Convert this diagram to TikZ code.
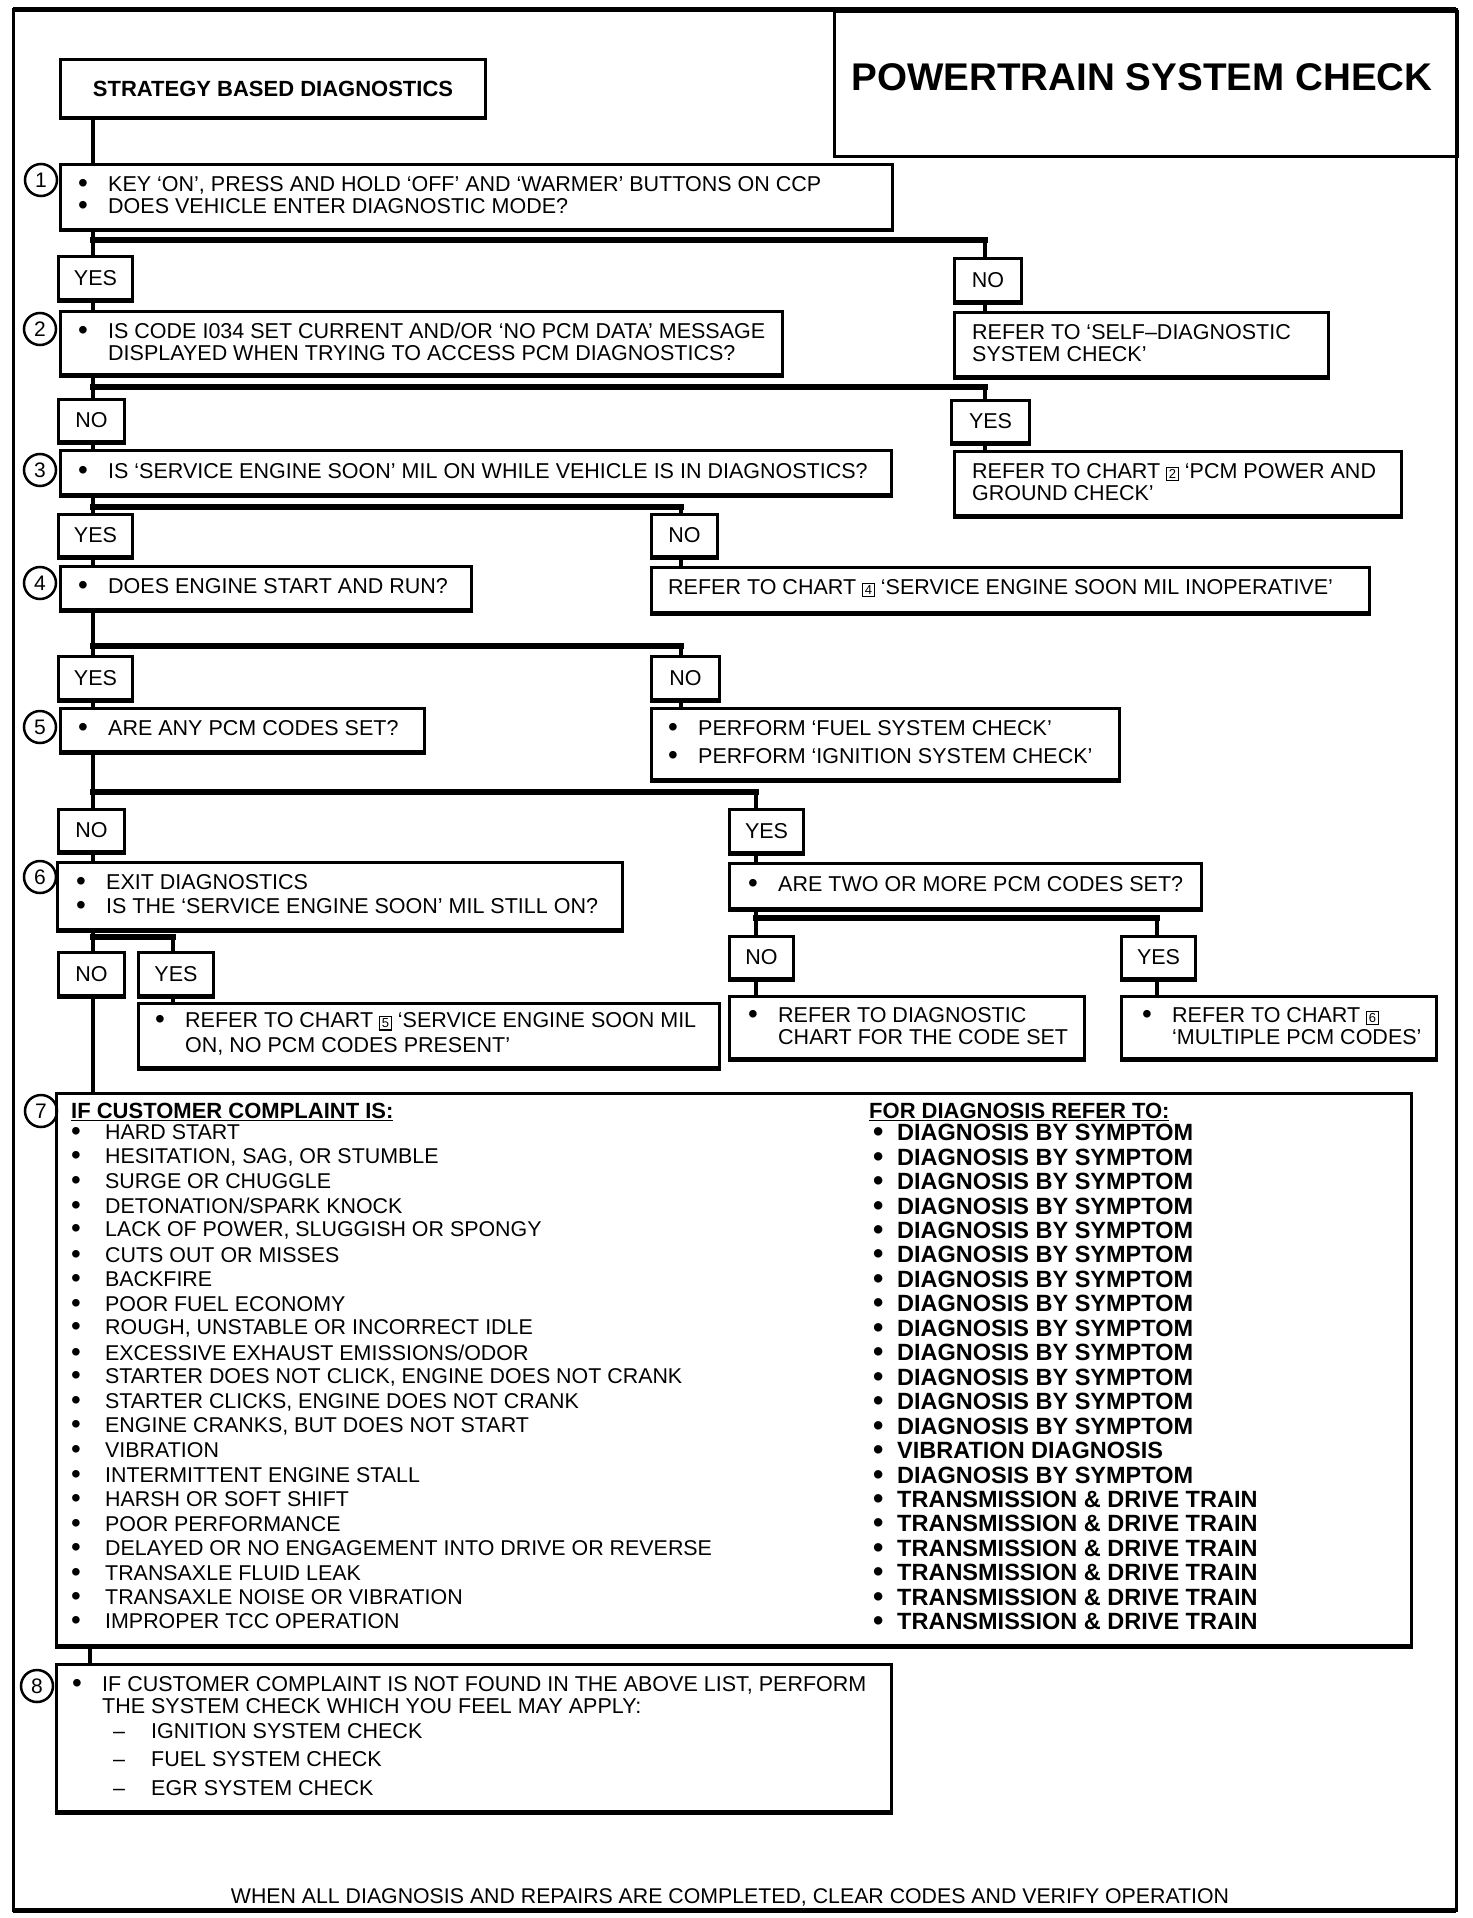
\documentclass[tikz,border=0pt]{standalone}
\usepackage{fontspec}
\setmainfont{Liberation Sans}
\usepackage{graphicx}
\usetikzlibrary{calc}

\newcommand\mainfs{\fontsize{21.5}{22}\selectfont}
\newcommand\listfs{\fontsize{21.4}{24}\selectfont}
\newcommand\rightfs{\fontsize{23.5}{24}\selectfont\bfseries}
\newcommand\bul{\makebox[30pt][l]{\raisebox{-1pt}{\scalebox{1.3}{\textbullet}}}}
\newcommand\bulL{\makebox[34pt][l]{\raisebox{-1pt}{\scalebox{1.3}{\textbullet}}}}
\newcommand\bulR{\makebox[24pt][l]{\raisebox{-1pt}{\scalebox{1.25}{\textbullet}}}}
\newcommand\indt{\hspace*{30pt}}
\newcommand\dsh{\hspace*{41pt}\makebox[38pt][l]{–}}
\newcommand\chno[1]{{\fboxsep=1.5pt\fboxrule=1.3pt\fbox{\fontsize{13}{13}\selectfont #1}}}

\tikzset{
  box/.style={draw, rectangle, line width=3pt, anchor=north west, inner sep=0pt},
  boxtext/.style={anchor=west, inner sep=0pt, align=left, font=\mainfs},
  yn/.style={draw, rectangle, line width=3pt, anchor=north west, inner sep=0pt, font=\mainfs},
  num/.style={draw, circle, line width=2.5pt, minimum size=32pt, inner sep=0pt, font=\fontsize{21}{21}\selectfont},
  vline/.style={line width=4pt},
  hline/.style={line width=6pt, line cap=rect},
  shadowline/.style={line width=3pt},
  listL/.style={anchor=west, inner sep=0pt, font=\listfs},
  listR/.style={anchor=west, inner sep=0pt, font=\rightfs},
  head/.style={anchor=west, inner sep=0pt, font=\fontsize{22}{24}\selectfont\bfseries},
}

\newcommand\fbx[7]{%
  \pgfmathsetmacro\bxw{#4-#2}%
  \pgfmathsetmacro\bxh{#5-#3}%
  \pgfmathsetmacro\bxc{(#3+#5)/2}%
  \node[box, minimum width=\bxw pt, minimum height=\bxh pt] (#1) at (#2,#3) {};%
  \node[boxtext] (#1t) at (#6,\bxc) {#7};%
}
\newcommand\ynb[6]{%
  \pgfmathsetmacro\bxw{#4-#2}%
  \pgfmathsetmacro\bxh{#5-#3}%
  \node[yn, minimum width=\bxw pt, minimum height=\bxh pt] (#1) at (#2,#3) {#6};%
}

\begin{document}
\begin{tikzpicture}[x=1pt,y=-1pt]
\useasboundingbox (0,0) rectangle (1472,1918);

% outer frame
\draw[line width=3pt] (13,10) rectangle (1456,1910);
\draw[line width=5pt] (13,10) -- (1456,10);
\draw[line width=5pt] (13,1910) -- (1456,1910);

% title
\node[draw, line width=3pt, anchor=north west, minimum width=623pt, minimum height=145pt, inner sep=0pt] (TB) at (833,10) {};
\node[font=\fontsize{38.6}{40}\selectfont\bfseries, inner sep=0pt] (TT) at (1142,77) {POWERTRAIN SYSTEM CHECK};

% start box
\node[box, minimum width=425pt, minimum height=58pt, font=\fontsize{22}{24}\selectfont\bfseries] (B0) at (59,58) {STRATEGY BASED DIAGNOSTICS};

% step 1
\node[num] (C1) at (41,180) {1};
\fbx{B1}{59}{163}{891}{228}{78}{\bul KEY ‘ON’, PRESS AND HOLD ‘OFF’ AND ‘WARMER’ BUTTONS ON CCP\\ \bul DOES VEHICLE ENTER DIAGNOSTIC MODE?}
\ynb{Y1}{57}{255}{131}{298}{YES}
\ynb{N1}{953}{257}{1020}{300}{NO}
\fbx{F1}{953}{311}{1327}{375}{972}{REFER TO ‘SELF–DIAGNOSTIC\\SYSTEM CHECK’}

% step 2
\node[num] (C2) at (40,329) {2};
\fbx{B2}{59}{310}{781}{373}{78}{\bul IS CODE I034 SET CURRENT AND/OR ‘NO PCM DATA’ MESSAGE\\ \indt DISPLAYED WHEN TRYING TO ACCESS PCM DIAGNOSTICS?}
\ynb{N2}{57}{398}{123}{440}{NO}
\ynb{Y2}{950}{399}{1028}{441}{YES}
\fbx{F2}{953}{450}{1400}{514}{972}{REFER TO CHART \chno{2} ‘PCM POWER AND\\GROUND CHECK’}

% step 3
\node[num] (C3) at (40,470) {3};
\fbx{B3}{59}{449}{890}{493}{78}{\bul IS ‘SERVICE ENGINE SOON’ MIL ON WHILE VEHICLE IS IN DIAGNOSTICS?}
\ynb{Y3}{57}{513}{131}{555}{YES}
\ynb{N3}{650}{513}{716}{555}{NO}

% step 4
\node[num] (C4) at (40,583) {4};
\fbx{B4}{59}{565}{470}{608}{78}{\bul DOES ENGINE START AND RUN?}
\fbx{F4}{650}{566}{1368}{611}{668}{REFER TO CHART \chno{4} ‘SERVICE ENGINE SOON MIL INOPERATIVE’}
\ynb{Y4}{57}{655}{131}{698}{YES}
\ynb{N4}{650}{655}{718}{698}{NO}

% step 5
\node[num] (C5) at (40,727) {5};
\fbx{B5}{59}{707}{423}{750}{78}{\bul ARE ANY PCM CODES SET?}
\fbx{P4}{650}{707}{1118}{778}{668}{\bul PERFORM ‘FUEL SYSTEM CHECK’\\[6pt]\bul PERFORM ‘IGNITION SYSTEM CHECK’}
\ynb{N5}{57}{808}{123}{850}{NO}
\ynb{Y5}{728}{808}{802}{851}{YES}

% step 6
\node[num] (C6) at (40,877) {6};
\fbx{B6}{56}{861}{621}{928}{76}{\bul EXIT DIAGNOSTICS\\[2pt]\bul IS THE ‘SERVICE ENGINE SOON’ MIL STILL ON?}
\fbx{T5}{728}{862}{1200}{907}{748}{\bul ARE TWO OR MORE PCM CODES SET?}
\ynb{N6}{57}{951}{123}{994}{NO}
\ynb{Y6}{137}{951}{212}{994}{YES}
\fbx{F5}{137}{1002}{718}{1066}{155}{\bul REFER TO CHART \chno{5} ‘SERVICE ENGINE SOON MIL\\[3pt]\indt ON, NO PCM CODES PRESENT’}
\ynb{N7}{728}{935}{792}{977}{NO}
\ynb{Y7}{1120}{935}{1194}{977}{YES}
\fbx{F6}{728}{995}{1083}{1057}{748}{\bul REFER TO DIAGNOSTIC\\ \indt CHART FOR THE CODE SET}
\fbx{F7}{1120}{995}{1435}{1057}{1142}{\bul REFER TO CHART \chno{6}\\ \indt ‘MULTIPLE PCM CODES’}

% step 7
\node[num] (C7) at (41,1111) {7};
\node[box, minimum width=1355pt, minimum height=552pt] (B7) at (55,1092) {};
\node[head] (LH) at (71,1112) {\underline{IF CUSTOMER COMPLAINT IS:}};
\node[head] (RH) at (869,1112) {\underline{FOR DIAGNOSIS REFER TO:}};
\foreach \t [count=\i] in {{HARD START},{HESITATION, SAG, OR STUMBLE},{SURGE OR CHUGGLE},{DETONATION/SPARK KNOCK},{LACK OF POWER, SLUGGISH OR SPONGY},{CUTS OUT OR MISSES},{BACKFIRE},{POOR FUEL ECONOMY},{ROUGH, UNSTABLE OR INCORRECT IDLE},{EXCESSIVE EXHAUST EMISSIONS/ODOR},{STARTER DOES NOT CLICK, ENGINE DOES NOT CRANK},{STARTER CLICKS, ENGINE DOES NOT CRANK},{ENGINE CRANKS, BUT DOES NOT START},{VIBRATION},{INTERMITTENT ENGINE STALL},{HARSH OR SOFT SHIFT},{POOR PERFORMANCE},{DELAYED OR NO ENGAGEMENT INTO DRIVE OR REVERSE},{TRANSAXLE FLUID LEAK},{TRANSAXLE NOISE OR VIBRATION},{IMPROPER TCC OPERATION}}
{
  \pgfmathsetmacro\yy{1133+24.45*(\i-1)}
  \node[listL] (LL\i) at (71,\yy) {\bulL\t};
}
\foreach \t [count=\i] in {{DIAGNOSIS BY SYMPTOM},{DIAGNOSIS BY SYMPTOM},{DIAGNOSIS BY SYMPTOM},{DIAGNOSIS BY SYMPTOM},{DIAGNOSIS BY SYMPTOM},{DIAGNOSIS BY SYMPTOM},{DIAGNOSIS BY SYMPTOM},{DIAGNOSIS BY SYMPTOM},{DIAGNOSIS BY SYMPTOM},{DIAGNOSIS BY SYMPTOM},{DIAGNOSIS BY SYMPTOM},{DIAGNOSIS BY SYMPTOM},{DIAGNOSIS BY SYMPTOM},{VIBRATION DIAGNOSIS},{DIAGNOSIS BY SYMPTOM},{TRANSMISSION \& DRIVE TRAIN},{TRANSMISSION \& DRIVE TRAIN},{TRANSMISSION \& DRIVE TRAIN},{TRANSMISSION \& DRIVE TRAIN},{TRANSMISSION \& DRIVE TRAIN},{TRANSMISSION \& DRIVE TRAIN}}
{
  \pgfmathsetmacro\yy{1133+24.45*(\i-1)}
  \node[listR] (LR\i) at (873,\yy) {\bulR\t};
}

% step 8
\node[num] (C8) at (37,1686) {8};
\fbx{B8}{55}{1663}{890}{1810}{72}{\bul IF CUSTOMER COMPLAINT IS NOT FOUND IN THE ABOVE LIST, PERFORM\\ \indt THE SYSTEM CHECK WHICH YOU FEEL MAY APPLY:\\[3pt]\dsh IGNITION SYSTEM CHECK\\[6pt]\dsh FUEL SYSTEM CHECK\\[7pt]\dsh EGR SYSTEM CHECK}

% footer
\node[inner sep=0pt, font=\fontsize{21.3}{22}\selectfont] (FT) at (730,1897) {WHEN ALL DIAGNOSIS AND REPAIRS ARE COMPLETED, CLEAR CODES AND VERIFY OPERATION};

% bottom shadows
\foreach \n in {B0,B1,Y1,N1,F1,B2,N2,Y2,F2,B3,Y3,N3,B4,F4,Y4,N4,B5,P4,N5,Y5,B6,T5,N6,Y6,F5,N7,Y7,F6,F7,B7,B8}
  \draw[shadowline] (\n.south west) -- (\n.south east);

% connector columns and branch levels
\coordinate (tk) at (93,0);
\coordinate (r1x) at (985,0);
\coordinate (c3x) at (681,0);
\coordinate (c5x) at (756,0);
\coordinate (c6x) at (173,0);
\coordinate (c7x) at (1157,0);
\coordinate (c8x) at (90,0);
\coordinate (h1) at (93,240);
\coordinate (h2) at (93,387);
\coordinate (h3) at (93,507);
\coordinate (h4) at (93,646);
\coordinate (h5) at (93,792);
\coordinate (h6) at (93,937);
\coordinate (h7) at (756,918);

% connectors
\draw[vline] (B0.south -| tk) -- (B1.north -| tk);
\draw[vline] (B1.south -| tk) -- (Y1.north -| tk);
\draw[hline] (h1) -- (h1 -| r1x);
\draw[vline] (h1 -| r1x) -- (N1.north -| r1x);
\draw[vline] (Y1.south -| tk) -- (B2.north -| tk);
\draw[vline] (N1.south -| r1x) -- (F1.north -| r1x);

\draw[vline] (B2.south -| tk) -- (N2.north -| tk);
\draw[hline] (h2) -- (h2 -| r1x);
\draw[vline] (h2 -| r1x) -- (Y2.north -| r1x);
\draw[vline] (N2.south -| tk) -- (B3.north -| tk);
\draw[vline] (Y2.south -| r1x) -- (F2.north -| r1x);

\draw[vline] (B3.south -| tk) -- (Y3.north -| tk);
\draw[hline] (h3) -- (h3 -| c3x);
\draw[vline] (h3 -| c3x) -- (N3.north -| c3x);
\draw[vline] (Y3.south -| tk) -- (B4.north -| tk);
\draw[vline] (N3.south -| c3x) -- (F4.north -| c3x);

\draw[vline] (B4.south -| tk) -- (Y4.north -| tk);
\draw[hline] (h4) -- (h4 -| c3x);
\draw[vline] (h4 -| c3x) -- (N4.north -| c3x);
\draw[vline] (Y4.south -| tk) -- (B5.north -| tk);
\draw[vline] (N4.south -| c3x) -- (P4.north -| c3x);

\draw[vline] (B5.south -| tk) -- (N5.north -| tk);
\draw[hline] (h5) -- (h5 -| c5x);
\draw[vline] (h5 -| c5x) -- (Y5.north -| c5x);
\draw[vline] (N5.south -| tk) -- (B6.north -| tk);
\draw[vline] (Y5.south -| c5x) -- (T5.north -| c5x);

\draw[vline] (B6.south -| tk) -- (N6.north -| tk);
\draw[hline] (h6) -- (h6 -| c6x);
\draw[vline] (h6 -| c6x) -- (Y6.north -| c6x);
\draw[vline] (Y6.south -| c6x) -- (F5.north -| c6x);
\draw[vline] (N6.south -| tk) -- (B7.north -| tk);

\draw[vline] (T5.south -| c5x) -- (N7.north -| c5x);
\draw[hline] (h7) -- (h7 -| c7x);
\draw[vline] (h7 -| c7x) -- (Y7.north -| c7x);
\draw[vline] (N7.south -| c5x) -- (F6.north -| c5x);
\draw[vline] (Y7.south -| c7x) -- (F7.north -| c7x);

\draw[vline] (B7.south -| c8x) -- (B8.north -| c8x);
\end{tikzpicture}
\end{document}
